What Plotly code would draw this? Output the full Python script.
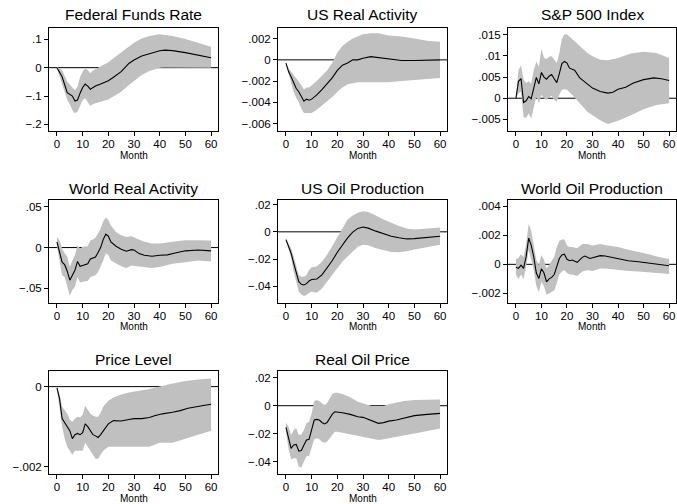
import plotly.graph_objects as go

# ---------------- data ----------------
titles = ["Federal Funds Rate", "US Real Activity", "S&P 500 Index",
          "World Real Activity", "US Oil Production", "World Oil Production",
          "Price Level", "Real Oil Price"]

month_ticks = [0, 10, 20, 30, 40, 50, 60]

# 1 Federal Funds Rate
ffr_m = [0, 2, 4, 5, 6, 7, 8, 9, 10, 11, 12, 13, 14, 15, 17, 20, 22, 25, 28, 30, 33, 36, 40, 42, 45, 50, 55, 60]
ffr_irf = [0, -.032, -.088, -.094, -.10, -.118, -.114, -.09, -.07, -.058, -.065, -.076, -.07, -.065, -.058, -.046,
           -.034, -.014, .015, .027, .041, .05, .06, .062, .06, .053, .045, .035]
ffr_bm = ffr_m
ffr_hi = [.003, -.008, -.05, -.06, -.07, -.08, -.067, -.032, -.014, -.002, -.008, -.02, -.01, -.005, .003, .019,
          .033, .054, .074, .088, .103, .112, .118, .116, .112, .101, .088, .074]
ffr_lo = [-.002, -.055, -.114, -.128, -.15, -.161, -.155, -.135, -.114, -.108, -.124, -.135, -.128, -.126, -.12,
          -.112, -.102, -.085, -.061, -.046, -.026, -.012, 0, .001, .001, .001, .001, 0]

# 2 US Real Activity
rea_m = [0, 1, 2, 3, 4, 5, 6, 7, 8, 9, 10, 12, 14, 16, 18, 20, 22, 24, 26, 28, 30, 33, 36, 40, 45, 50, 55, 60]
rea_irf = [-.0003, -.0011, -.0016, -.0022, -.0027, -.003, -.0035, -.0039, -.0037, -.0038, -.0037, -.0033, -.0028,
           -.0023, -.0017, -.001, -.0005, -.0003, 0, 0, .00016, .0003, .0002, .00006, -.00006, -.00006, 0, 0]
rea_bm = rea_m
rea_hi = [-.0002, -.0008, -.0011, -.0014, -.0017, -.002, -.0024, -.0028, -.0026, -.0026, -.0024, -.002, -.0015,
          -.001, -.0003, .0007, .0013, .0017, .002, .0022, .0024, .0025, .0025, .0023, .0022, .002, .0018, .0017]
rea_lo = [-.0003, -.0014, -.0022, -.003, -.0036, -.004, -.0046, -.005, -.005, -.005, -.005, -.0047, -.0043,
          -.0039, -.0035, -.003, -.0026, -.0023, -.0022, -.0021, -.0021, -.0021, -.0021, -.0021, -.002, -.0019,
          -.0018, -.0017]

# 3 S&P 500 Index
spx_m = [0, 1, 2, 3, 4, 5, 6, 7, 8, 9, 10, 11, 12, 13, 14, 15, 16, 17, 18, 19, 20, 21, 22, 23, 25, 27, 30, 33,
         36, 38, 40, 43, 46, 50, 54, 57, 60]
spx_irf = [0, .004, .0046, -.001, -.0006, .0004, -.0001, .0026, .0049, .0034, .0061, .005, .0045, .0052, .0056,
           .0046, .0037, .0058, .0082, .0087, .0083, .0071, .0069, .0066, .0048, .0038, .0024, .0016, .0012,
           .0014, .0021, .0026, .0036, .0044, .0048, .0046, .0042]
spx_bm = [0, 1, 2, 3, 4, 5, 6, 7, 8, 9, 10, 11, 12, 13, 14, 15, 16, 17, 18, 19, 20, 22, 25, 28, 30, 33, 36, 40,
          45, 50, 55, 60]
spx_hi = [0, .0067, .0078, .0044, .0036, .004, .0034, .0067, .0087, .0075, .0117, .0095, .0093, .0098, .0099,
          .0091, .0083, .0107, .014, .0151, .0151, .014, .0123, .0107, .0099, .0091, .009, .0095, .0106, .011,
          .0107, .0095]
spx_lo = [0, .0012, .0016, -.0045, -.0046, -.0036, -.0048, -.002, .0004, -.0012, .0008, 0, -.0004, .0002, .0006,
          -.0004, -.0008, .0008, .002, .0021, .002, .0008, -.0012, -.0032, -.004, -.0052, -.0061, -.0053, -.004,
          -.0026, -.0016, -.0012]

# 4 World Real Activity
wra_m = [0, 1, 2, 3, 4, 5, 6, 7, 8, 9, 10, 12, 13, 14, 15, 16, 17, 18, 19, 20, 21, 23, 25, 27, 29, 30, 32, 34,
         37, 40, 43, 46, 50, 55, 60]
wra_irf = [.007, -.004, -.018, -.021, -.029, -.04, -.034, -.028, -.017, -.023, -.022, -.02, -.014, -.013, -.0115,
           -.006, 0, .0098, .0164, .014, .007, .0016, -.002, -.0045, -.0025, -.003, -.0074, -.0094, -.0107,
           -.0094, -.009, -.0066, -.004, -.003, -.004]
wra_bm = [0, 1, 2, 3, 4, 5, 6, 7, 8, 9, 10, 12, 13, 14, 15, 16, 17, 18, 19, 20, 21, 23, 25, 27, 29, 31, 34, 37,
          40, 45, 50, 55, 60]
wra_hi = [.013, .009, -.001, -.007, -.011, -.024, -.016, -.009, .003, -.001, .001, .0016, .009, .010, .012, .017,
          .023, .032, .037, .034, .027, .019, .015, .013, .014, .011, .007, .005, .005, .007, .009, .009, .0086]
wra_lo = [.0016, -.016, -.034, -.036, -.046, -.059, -.052, -.048, -.036, -.043, -.042, -.041, -.036, -.035,
          -.034, -.030, -.024, -.016, -.007, -.009, -.016, -.02, -.023, -.025, -.022, -.023, -.024, -.025, -.024,
          -.02, -.018, -.016, -.017]

# 5 US Oil Production
uop_m = [0, 1, 2, 3, 4, 5, 6, 7, 8, 9, 10, 12, 14, 16, 18, 20, 22, 24, 26, 28, 30, 32, 35, 38, 41, 44, 47, 50,
         55, 60]
uop_irf = [-.0057, -.010, -.0156, -.023, -.030, -.0365, -.0385, -.039, -.038, -.036, -.035, -.0346, -.0316,
           -.0267, -.0212, -.015, -.0094, -.0044, -.0002, .0025, .0035, .0027, .0005, -.0015, -.0032, -.0044,
           -.0052, -.005, -.004, -.0032]
uop_bm = uop_m
uop_hi = [-.005, -.008, -.012, -.018, -.0254, -.0316, -.033, -.033, -.0316, -.028, -.026, -.0254, -.022, -.0168,
          -.0106, -.0037, .003, .0091, .012, .014, .015, .0146, .012, .009, .0067, .0042, .0025, .0017, .0025,
          .0032]
uop_lo = [-.0064, -.012, -.019, -.029, -.0378, -.044, -.046, -.047, -.0464, -.0447, -.044, -.0447, -.0415,
          -.0365, -.0316, -.0267, -.0217, -.018, -.0143, -.011, -.0094, -.0099, -.012, -.0136, -.0148, -.015,
          -.0143, -.013, -.011, -.0094]

# 6 World Oil Production
wop_m = [0, 1, 2, 3, 4, 5, 6, 7, 8, 9, 10, 11, 12, 13, 14, 15, 16, 17, 18, 19, 20, 21, 22, 24, 26, 27, 29, 31,
         33, 35, 38, 41, 44, 48, 52, 56, 60]
wop_irf = [-.0002, -.00028, -.00005, -.00028, .00053, .0018, .0013, .0005, -.0006, -.00097, -.0003, -.0006,
           -.0012, -.001, -.0009, -.0007, -.00016, .0004, .00064, .0007, .00035, .00025, .0003, .00014, .00048,
           .00057, .0004, .00048, .0006, .00057, .00046, .00035, .00025, .00018, .00007, 0, -.0001]
wop_bm = [0, 1, 2, 3, 4, 5, 6, 7, 8, 9, 10, 11, 12, 13, 14, 15, 16, 17, 18, 19, 20, 21, 22, 24, 26, 28, 30, 33,
          36, 40, 44, 48, 52, 56, 60]
wop_hi = [.00035, .00046, .0007, .0005, .0014, .0028, .0023, .0014, .0003, -.00005, .00064, .0003, -.00028,
          -.00005, .0002, .0005, .0012, .0016, .0017, .0017, .0013, .0012, .0012, .0011, .0014, .0014, .0013,
          .0014, .0013, .0012, .001, .00087, .0007, .0005, .00037]
wop_lo = [-.0007, -.001, -.0007, -.001, -.00016, .001, .0003, -.0004, -.0015, -.0019, -.0012, -.0015, -.0021,
          -.002, -.0019, -.0018, -.0013, -.0007, -.0005, -.0004, -.0006, -.0007, -.0007, -.0008, -.0005, -.0004,
          -.00046, -.00028, -.0003, -.0004, -.00046, -.0005, -.00057, -.0006, -.00067]

# 7 Price Level
pl_m = [0, 1, 2, 3, 4, 5, 6, 7, 8, 9, 10, 11, 12, 13, 14, 15, 16, 17, 18, 20, 22, 25, 28, 30, 33, 36, 38, 41,
        45, 48, 51, 54, 57, 60]
pl_irf = [-.00003, -.0003, -.0008, -.0009, -.001, -.0011, -.0013, -.0012, -.00117, -.0012, -.00115, -.00093,
          -.001, -.0011, -.0012, -.00123, -.00127, -.0012, -.0011, -.00093, -.00085, -.00086, -.00082, -.0008,
          -.0008, -.00077, -.00073, -.00068, -.00064, -.0006, -.00054, -.0005, -.00047, -.00044]
pl_bm = [0, 1, 2, 3, 4, 5, 6, 7, 8, 9, 10, 11, 12, 13, 14, 15, 16, 17, 18, 20, 22, 25, 28, 30, 33, 36, 40, 45,
         50, 55, 60]
pl_hi = [0, -.0002, -.0005, -.00058, -.00067, -.00083, -.00088, -.0008, -.00075, -.00077, -.0007, -.00048,
         -.00057, -.00068, -.00072, -.00075, -.00075, -.00065, -.0005, -.00035, -.00027, -.0002, -.00015,
         -.00013, -.0001, -.00006, 0, .00008, .00014, .00018, .0002]
pl_lo = [-.00004, -.0005, -.001, -.0013, -.0015, -.0016, -.0017, -.0016, -.0016, -.0016, -.0016, -.0014,
         -.0015, -.0016, -.0017, -.0018, -.0018, -.0017, -.0016, -.0015, -.0015, -.0015, -.0015, -.0015,
         -.0015, -.0015, -.0014, -.0014, -.0013, -.0012, -.0011]

# 8 Real Oil Price
rop_m = [0, 1, 2, 3, 4, 5, 6, 7, 8, 9, 10, 11, 12, 13, 14, 15, 16, 17, 18, 19, 20, 22, 25, 28, 30, 33, 36, 38,
         40, 43, 46, 50, 55, 60]
rop_irf = [-.0155, -.0233, -.0305, -.028, -.0276, -.0324, -.032, -.028, -.0245, -.024, -.0174, -.0102, -.0098,
           -.0102, -.012, -.013, -.012, -.009, -.0062, -.0043, -.0045, -.005, -.0062, -.0079, -.0083, -.0107,
           -.0126, -.0121, -.011, -.0102, -.009, -.0071, -.0062, -.0055]
rop_bm = rop_m
rop_hi = [-.012, -.015, -.021, -.0174, -.016, -.021, -.0205, -.0174, -.0126, -.0114, -.0055, .0033, .004, .0033,
          .0017, .0005, .0017, .0052, .0083, .0093, .0093, .0083, .006, .0029, .0017, 0, -.0007, -.0002, .001,
          .0021, .0033, .004, .0045, .0045]
rop_lo = [-.0186, -.0305, -.0383, -.0376, -.0376, -.0436, -.044, -.0393, -.036, -.036, -.0298, -.024, -.0233,
          -.024, -.0257, -.0264, -.0257, -.0233, -.021, -.0186, -.0186, -.0193, -.0202, -.0217, -.0221, -.0233,
          -.0245, -.024, -.0233, -.0226, -.0217, -.0198, -.018, -.0162]

panels = [
    (ffr_m, ffr_irf, ffr_bm, ffr_lo, ffr_hi),
    (rea_m, rea_irf, rea_bm, rea_lo, rea_hi),
    (spx_m, spx_irf, spx_bm, spx_lo, spx_hi),
    (wra_m, wra_irf, wra_bm, wra_lo, wra_hi),
    (uop_m, uop_irf, uop_bm, uop_lo, uop_hi),
    (wop_m, wop_irf, wop_bm, wop_lo, wop_hi),
    (pl_m, pl_irf, pl_bm, pl_lo, pl_hi),
    (rop_m, rop_irf, rop_bm, rop_lo, rop_hi),
]

y_tickvals = [
    [-.2, -.1, 0, .1],
    [-.006, -.004, -.002, 0, .002],
    [-.005, 0, .005, .01, .015],
    [-.05, 0, .05],
    [-.04, -.02, 0, .02],
    [-.002, 0, .002, .004],
    [-.002, 0],
    [-.04, -.02, 0, .02],
]
y_ticktext = [
    ["\u2212.2", "\u2212.1", "0", ".1"],
    ["\u2212.006", "\u2212.004", "\u2212.002", "0", ".002"],
    ["\u2212.005", "0", ".005", ".01", ".015"],
    ["\u2212.05", "0", ".05"],
    ["\u2212.04", "\u2212.02", "0", ".02"],
    ["\u2212.002", "0", ".002", ".004"],
    ["\u2212.002", "0"],
    ["\u2212.04", "\u2212.02", "0", ".02"],
]
y_ranges = [
    [-0.2235, 0.14],
    [-0.0067, 0.0030],
    [-0.00775, 0.0166],
    [-0.0684, 0.059],
    [-0.0524, 0.0237],
    [-0.00268, 0.00446],
    [-0.00219, 0.00039],
    [-0.049, 0.0248],
]

# ---------------- layout geometry (pixels) ----------------
W, H = 677, 504
col_px = [(49, 218), (278, 447), (508, 676)]
row_px = [(28, 131), (199.5, 303.3), (371, 474.3)]
title_py = [14.5, 188.3, 359.3]
month_py = [155.5, 326.8, 498]

FONT = "Liberation Sans, Arial, Helvetica, sans-serif"
BAND = "#c0c0c0"

fig = go.Figure()
layout = dict(
    width=W, height=H, margin=dict(l=0, r=0, t=0, b=0),
    paper_bgcolor="white", plot_bgcolor="white",
    showlegend=False, font=dict(family=FONT, color="black"),
    annotations=[], shapes=[],
)

for i, (m, irf, bm, lo, hi) in enumerate(panels):
    r, c = divmod(i, 3)
    k = "" if i == 0 else str(i + 1)
    xa, ya = "x" + k, "y" + k
    x0p, x1p = col_px[c]
    t, b = row_px[r]

    fig.add_trace(go.Scatter(x=bm, y=lo, xaxis=xa, yaxis=ya, mode="lines",
                             line=dict(width=0, color=BAND), hoverinfo="skip"))
    fig.add_trace(go.Scatter(x=bm, y=hi, xaxis=xa, yaxis=ya, mode="lines",
                             line=dict(width=0, color=BAND), fill="tonexty",
                             fillcolor=BAND, hoverinfo="skip"))
    fig.add_trace(go.Scatter(x=m, y=irf, xaxis=xa, yaxis=ya, mode="lines",
                             line=dict(width=1.1, color="black")))

    layout["xaxis" + k] = dict(
        domain=[x0p / W, x1p / W], anchor=ya, range=[-3.1, 62.7],
        tickvals=month_ticks, ticks="outside", ticklen=4, tickwidth=1, tickcolor="black",
        showline=True, linecolor="black", linewidth=1, mirror=True,
        showgrid=False, zeroline=False, tickfont=dict(size=11.5, family=FONT),
        ticklabelstandoff=-2,
    )
    layout["yaxis" + k] = dict(
        domain=[1 - b / H, 1 - t / H], anchor=xa, range=y_ranges[i],
        tickvals=y_tickvals[i], ticktext=y_ticktext[i],
        ticks="outside", ticklen=4, tickwidth=1, tickcolor="black",
        showline=True, linecolor="black", linewidth=1, mirror=True,
        showgrid=False, zeroline=False, tickfont=dict(size=11.5, family=FONT),
    )
    layout["shapes"].append(dict(
        type="line", xref=xa + " domain", yref=ya, x0=0, x1=1, y0=0, y1=0,
        line=dict(color="black", width=1), layer="below"))
    layout["annotations"].append(dict(
        text=titles[i], xref="paper", yref="paper",
        x=(x0p + x1p) / 2 / W, y=1 - title_py[r] / H,
        xanchor="center", yanchor="middle", showarrow=False,
        font=dict(size=15.5, family=FONT)))
    layout["annotations"].append(dict(
        text="Month", xref="paper", yref="paper",
        x=(x0p + x1p) / 2 / W, y=1 - month_py[r] / H,
        xanchor="center", yanchor="middle", showarrow=False,
        font=dict(size=10, family=FONT)))

fig.update_layout(**layout)
fig.write_html(
    "out.html",
    config={"displayModeBar": False},
    post_script="document.body.style.margin='0';document.body.style.overflow='hidden';",
)
